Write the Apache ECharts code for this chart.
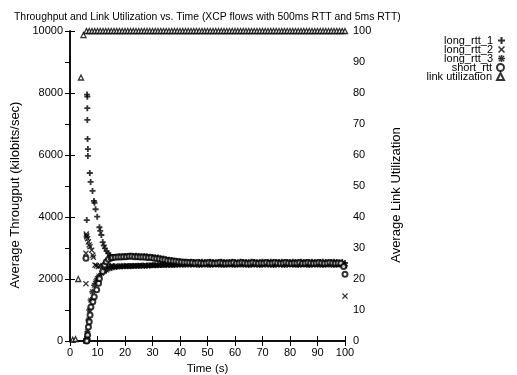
<!DOCTYPE html>
<html><head><meta charset="utf-8">
<script src="https://cdn.jsdelivr.net/npm/echarts@6/dist/echarts.min.js"></script>
<style>html,body{margin:0;padding:0;background:#fff}#c{width:517px;height:375px}</style>
</head><body><div id="c"></div>
<script>
const titleText = 'Throughput and Link Utilization vs. Time (XCP flows with 500ms RTT and 5ms RTT)';
const seriesNames = ['long_rtt_1','long_rtt_2','long_rtt_3','short_rtt','link utilization'];

// early (irregular) samples: [time, kbps]
const r1Early = [[6.1,3900],[6.2,7950],[6.3,7880],[6.3,7510],[6.3,7130],[6.4,6520],[6.5,6190],[6.5,5970],[7.2,5420],[7.5,5130],[8.2,4840],[8.7,4520],[8.9,4460],[9.3,4250],[9.9,4010],[10.7,3670],[11.0,3550],[11.4,3420],[11.9,3190],[12.3,3080],[12.7,2990],[13.3,2900],[13.9,2830],[14.5,2760],[15.2,2710],[5.6,0],[6.0,30]];
const r2Early = [[5.8,1850],[5.9,3450],[6.0,3400],[6.1,3360],[6.4,3300],[6.7,3200],[7.0,3100],[7.3,3040],[7.9,2930],[5.8,2830],[8.3,2770],[8.5,2700],[9.1,2450],[9.6,2430],[10.3,2400],[11.0,2420],[12.0,2430],[13.0,2430],[14.0,2420],[15.0,2420],[5.7,0],[6.1,60]];
const r3Early = [[6.0,0],[6.2,150],[6.3,300],[6.7,680],[7.0,1000],[7.5,1320],[8.1,1590],[8.8,1800],[9.4,1920],[9.9,2020],[10.5,2100],[11.5,2180],[12.5,2250],[13.3,2290],[14.5,2340],[15.2,2370],[5.8,20]];
const srEarly = [[6.3,30],[6.4,190],[6.7,450],[7.0,620],[7.3,840],[7.6,1100],[8.3,1270],[8.8,1430],[9.7,1650],[10.4,1860],[10.7,2020],[11.9,2240],[12.6,2450],[13.2,2560],[14.0,2640],[15.0,2680],[5.8,2670],[6.1,0]];
const utilEarly = [[1,0.4],[2,0.6],[3,20],[4,85],[4.9,98.7]];

// regular samples from t = 16 s to 100 s (two interleaved sampling clocks)
const tLateA = [16,17,18,19,20,21,22,23,24,25,26,27,28,29,30,31,32,33,34,35,36,37,38,39,40,41,42,43,44,45,46,47,48,49,50,51,52,53,54,55,56,57,58,59,60,61,62,63,64,65,66,67,68,69,70,71,72,73,74,75,76,77,78,79,80,81,82,83,84,85,86,87,88,89,90,91,92,93,94,95,96,97,98,99,100];
const tLateB = [15.5,16.5,17.5,18.5,19.5,20.5,21.5,22.5,23.5,24.5,25.5,26.5,27.5,28.5,29.5,30.5,31.5,32.5,33.5,34.5,35.5,36.5,37.5,38.5,39.5,40.5,41.5,42.5,43.5,44.5,45.5,46.5,47.5,48.5,49.5,50.5,51.5,52.5,53.5,54.5,55.5,56.5,57.5,58.5,59.5,60.5,61.5,62.5,63.5,64.5,65.5,66.5,67.5,68.5,69.5,70.5,71.5,72.5,73.5,74.5,75.5,76.5,77.5,78.5,79.5,80.5,81.5,82.5,83.5,84.5,85.5,86.5,87.5,88.5,89.5,90.5,91.5,92.5,93.5,94.5,95.5,96.5,97.5,98.5,99.5];
const r1Late = [2710,2720,2730,2730,2740,2740,2750,2740,2750,2740,2730,2740,2730,2720,2710,2700,2690,2670,2660,2640,2620,2610,2590,2580,2570,2560,2560,2550,2560,2550,2540,2550,2560,2550,2540,2560,2550,2540,2550,2560,2550,2540,2550,2560,2550,2540,2560,2550,2550,2540,2560,2550,2540,2550,2560,2540,2550,2560,2550,2540,2550,2560,2550,2540,2550,2560,2550,2540,2560,2550,2550,2540,2560,2550,2540,2550,2560,2550,2540,2550,2560,2550,2540,2550,2520];
const srLate = [2690,2700,2710,2710,2720,2720,2730,2730,2720,2720,2710,2710,2700,2690,2690,2670,2660,2650,2630,2620,2600,2590,2580,2570,2560,2550,2540,2540,2530,2530,2520,2530,2520,2510,2520,2530,2520,2510,2520,2530,2520,2510,2520,2520,2530,2510,2520,2530,2520,2510,2520,2530,2520,2510,2520,2520,2530,2510,2520,2530,2520,2510,2520,2530,2520,2510,2520,2520,2530,2510,2520,2530,2520,2510,2520,2530,2520,2510,2520,2530,2520,2510,2520,2510,2400];
const r2Late = [2420,2420,2410,2420,2420,2430,2420,2430,2430,2430,2440,2430,2440,2440,2450,2440,2450,2450,2460,2460,2460,2470,2470,2470,2480,2480,2480,2490,2480,2490,2490,2500,2490,2490,2500,2490,2480,2490,2500,2490,2490,2500,2490,2480,2490,2500,2490,2490,2500,2490,2480,2490,2500,2490,2490,2500,2490,2480,2490,2500,2490,2490,2500,2490,2480,2490,2500,2490,2490,2500,2490,2480,2490,2500,2490,2490,2500,2490,2480,2490,2500,2490,2490,2480,2460];
const r3Late = [2380,2390,2400,2400,2410,2410,2410,2420,2420,2420,2430,2420,2430,2430,2440,2440,2440,2450,2450,2450,2450,2450,2450,2460,2460,2460,2460,2470,2460,2470,2460,2450,2460,2470,2460,2450,2460,2470,2460,2460,2450,2460,2470,2460,2450,2460,2470,2460,2460,2450,2460,2470,2460,2450,2460,2470,2460,2460,2450,2460,2470,2460,2450,2460,2470,2460,2460,2450,2460,2470,2460,2450,2460,2470,2460,2460,2450,2460,2470,2460,2450,2460,2470,2460,2430];
// last samples at t = 100 s
const srFinal = [[100,2150]];
const r2Final = [[100,1450]];
const utilLateT = [6,7,8,9,10,11,12,13,14,15,16,17,18,19,20,21,22,23,24,25,26,27,28,29,30,31,32,33,34,35,36,37,38,39,40,41,42,43,44,45,46,47,48,49,50,51,52,53,54,55,56,57,58,59,60,61,62,63,64,65,66,67,68,69,70,71,72,73,74,75,76,77,78,79,80,81,82,83,84,85,86,87,88,89,90,91,92,93,94,95,96,97,98,99,100];
const utilLateVals = [100,100,100,100,100,100,100,100,100,100,100,100,100,100,100,100,100,100,100,100,100,100,100,100,100,100,100,100,100,100,100,100,100,100,100,100,100,100,100,100,100,100,100,100,100,100,100,100,100,100,100,100,100,100,100,100,100,100,100,100,100,100,100,100,100,100,100,100,100,100,100,100,100,100,100,100,100,100,100,100,100,100,100,100,100,100,100,100,100,100,100,100,100,100,100];

function zip(ts, vs){ return ts.map((t,i)=>[t, vs[i]]); }

const FONT = 'Liberation Sans';
const PLUS = 'path://M3.5,0H6.5V3.5H10V6.5H6.5V10H3.5V6.5H0V3.5H3.5Z';
const CROSS = 'path://M0,1.5L1.5,0L5,3.5L8.5,0L10,1.5L6.5,5L10,8.5L8.5,10L5,6.5L1.5,10L0,8.5L3.5,5Z';
const STAR = 'path://M3.8,0H6.2V3.8H10V6.2H6.2V10H3.8V6.2H0V3.8H3.8Z M0.5,1.7L1.7,0.5L5,3.8L8.3,0.5L9.5,1.7L6.2,5L9.5,8.3L8.3,9.5L5,6.2L1.7,9.5L0.5,8.3L3.8,5Z';

const chart = echarts.init(document.getElementById('c'), null, {renderer:'canvas'});
const axisCommon = {
  axisLine:{show:true, lineStyle:{color:'#000', width:1.5}},
  axisTick:{show:true, inside:true, length:5, lineStyle:{color:'#000', width:1}},
  splitLine:{show:false},
  axisLabel:{color:'#000', fontFamily:FONT, fontSize:11, formatter:(v)=>String(v)}
};
const legendRows = [42,51,60,69,78];
const noEmph = {disabled:true};
const option = {
  animation:false,
  backgroundColor:'#fff',
  textStyle:{fontFamily:FONT},
  title:{text:titleText, left:9, top:7, textStyle:{fontFamily:FONT, fontSize:10.4, fontWeight:'normal', color:'#000'}},
  legend: seriesNames.map((n,i)=>({
    data:[n], orient:'vertical', right:12, top:legendRows[i]-7, align:'right', selectedMode:false,
    itemWidth:7, itemHeight:7, padding:0,
    textStyle:{fontFamily:FONT, fontSize:11, color:'#000'}
  })),
  grid:{left:70, right:172, top:31, bottom:34, containLabel:false, outerBoundsMode:'none'},
  xAxis:[
    Object.assign({}, axisCommon, {type:'value', position:'bottom', min:0, max:100, interval:10,
      name:'Time (s)', nameLocation:'middle', nameGap:11,
      nameTextStyle:{color:'#000', fontFamily:FONT, fontSize:11.5},
      axisLabel:{color:'#000', fontFamily:FONT, fontSize:11, margin:6, formatter:(v)=>String(v)}}),
    Object.assign({}, axisCommon, {type:'value', position:'top', min:0, max:100, interval:10,
      axisLabel:{show:false}})
  ],
  yAxis:[
    Object.assign({}, axisCommon, {type:'value', position:'left', min:0, max:10000, interval:2000,
      name:'Average Througput (kilobits/sec)', nameLocation:'middle', nameGap:39,
      nameTextStyle:{color:'#000', fontFamily:FONT, fontSize:13, padding:[0,18,0,0]},
      axisLabel:{color:'#000', fontFamily:FONT, fontSize:11, margin:7, formatter:(v)=>String(v)}}),
    Object.assign({}, axisCommon, {type:'value', position:'right', min:0, max:100, interval:10,
      name:'Average Link Utilization', nameLocation:'middle', nameGap:45,
      nameTextStyle:{color:'#000', fontFamily:FONT, fontSize:13, padding:[0,18,0,0]},
      axisLabel:{color:'#000', fontFamily:FONT, fontSize:11, margin:8, formatter:(v)=>String(v)}})
  ],
  series:[
    {name:'long_rtt_1', type:'scatter', symbol:PLUS, symbolSize:6, itemStyle:{color:'#000'},
     data:r1Early.concat(zip(tLateA, r1Late)), emphasis:noEmph},
    {name:'long_rtt_2', type:'scatter', symbol:CROSS, symbolSize:6, itemStyle:{color:'#000'},
     data:r2Early.concat(zip(tLateB, r2Late), r2Final), emphasis:noEmph},
    {name:'long_rtt_3', type:'scatter', symbol:STAR, symbolSize:6, itemStyle:{color:'#000'},
     data:r3Early.concat(zip(tLateA, r3Late)), emphasis:noEmph},
    {name:'short_rtt', type:'scatter', symbol:'emptyCircle', symbolSize:5, itemStyle:{color:'#000', borderColor:'#000', borderWidth:1.2},
     data:srEarly.concat(zip(tLateB, srLate), srFinal), emphasis:noEmph},
    {name:'link utilization', type:'scatter', yAxisIndex:1, symbol:'triangle', symbolSize:5,
     itemStyle:{color:'#fff', borderColor:'#000', borderWidth:1.3},
     data:utilEarly.concat(zip(utilLateT, utilLateVals)), emphasis:noEmph}
  ]
};
chart.setOption(option);
</script>
</body></html>
